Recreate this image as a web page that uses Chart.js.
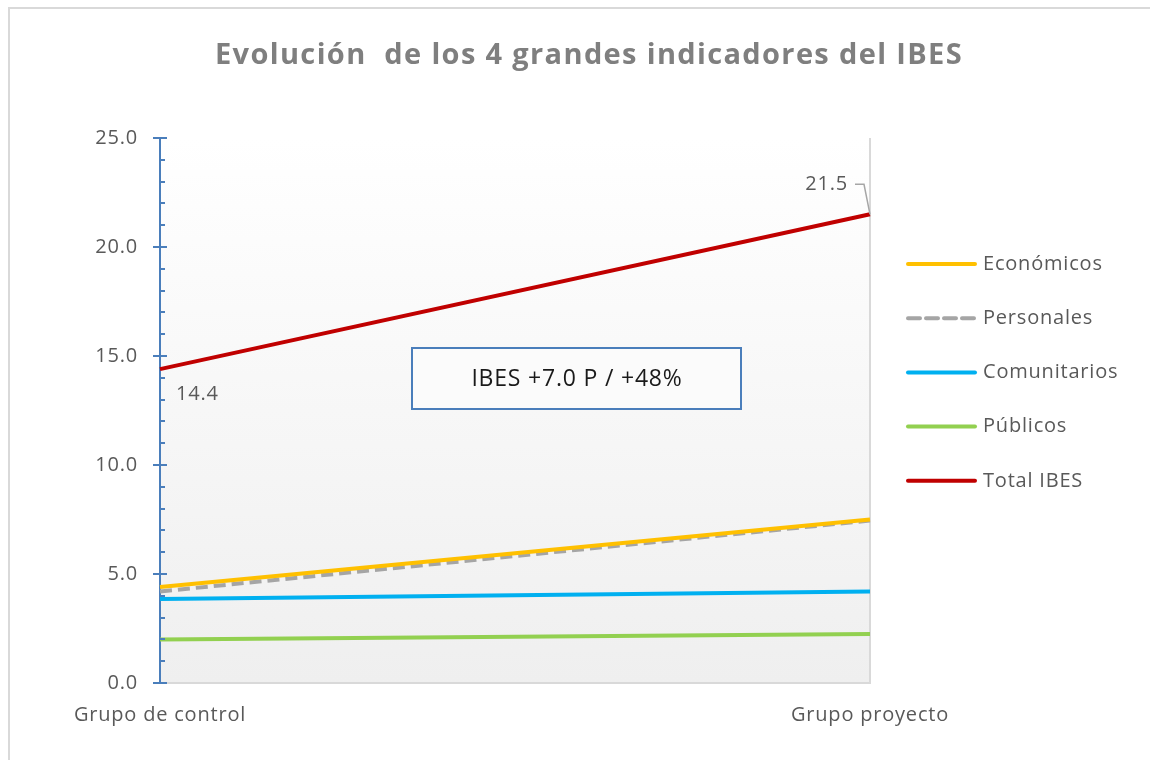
<!DOCTYPE html>
<html>
<head>
<meta charset="utf-8">
<script src="https://cdn.jsdelivr.net/npm/chart.js@4.4.1/dist/chart.umd.min.js"></script>
<style>
  html, body { margin: 0; padding: 0; background: #fff; }
  #wrap { width: 1150px; height: 760px; position: relative; }
</style>
</head>
<body>
<div id="wrap"><canvas id="myChart" width="1150" height="760"></canvas></div>
<script>
const categories = ["Grupo de control", "Grupo proyecto"];
const economicos = [4.4, 7.5];
const personales = [4.2, 7.45];
const comunitarios = [3.85, 4.2];
const publicos = [2.0, 2.25];
const totalIbes = [14.4, 21.5];
const yTicks = [0, 5, 10, 15, 20, 25];

const FONT = "'Open Sans', Lato, sans-serif";
const GREY_TXT = "#595959";
const SPACING = "0.8px";

const legendItems = [
  { label: "Económicos", color: "#ffc000", dash: [] },
  { label: "Personales", color: "#a5a5a5", dash: [12, 6] },
  { label: "Comunitarios", color: "#00b0f0", dash: [] },
  { label: "Públicos", color: "#92d050", dash: [] },
  { label: "Total IBES", color: "#c00000", dash: [] }
];

const decorPlugin = {
  id: "decor",
  beforeInit(chart) {
    chart.ctx.letterSpacing = SPACING;
  },
  beforeDraw(chart) {
    const { ctx, chartArea: a } = chart;
    ctx.letterSpacing = SPACING;
    ctx.save();
    // outer frame (only left/top visible)
    ctx.strokeStyle = "#d9d9d9";
    ctx.lineWidth = 2;
    ctx.beginPath();
    ctx.moveTo(9, 770);
    ctx.lineTo(9, 8);
    ctx.lineTo(1160, 8);
    ctx.stroke();
    // plot background gradient
    const g = ctx.createLinearGradient(0, a.top, 0, a.bottom);
    g.addColorStop(0, "#ffffff");
    g.addColorStop(1, "#efefef");
    ctx.fillStyle = g;
    ctx.fillRect(a.left, a.top, a.right - a.left, a.bottom - a.top);
    ctx.strokeStyle = "#d9d9d9";
    ctx.lineWidth = 2;
    ctx.beginPath();
    ctx.moveTo(a.left, a.bottom);
    ctx.lineTo(a.right, a.bottom);
    ctx.lineTo(a.right, a.top);
    ctx.stroke();
    // title
    ctx.fillStyle = "#7f7f7f";
    ctx.font = "bold 29px " + FONT;
    ctx.letterSpacing = "1.35px";
    ctx.textAlign = "center";
    ctx.textBaseline = "alphabetic";
    ctx.fillText("Evolución  de los 4 grandes indicadores del IBES", 589, 64);
    ctx.restore();
  },
  afterDatasetsDraw(chart) {
    const { ctx, chartArea: a, scales } = chart;
    const y = scales.y;
    ctx.save();
    // axis ticks
    ctx.strokeStyle = "#4a7ebb";
    ctx.lineWidth = 2;
    for (let v = 0; v <= 25; v++) {
      const py = Math.round(y.getPixelForValue(v));
      ctx.beginPath();
      if (v % 5 === 0) {
        ctx.moveTo(a.left - 7, py);
        ctx.lineTo(a.left + 7, py);
      } else {
        ctx.moveTo(a.left, py);
        ctx.lineTo(a.left + 5, py);
      }
      ctx.stroke();
    }
    // data labels for Total IBES
    const x0 = scales.x.getPixelForValue(0);
    const x1 = scales.x.getPixelForValue(1);
    const y0 = y.getPixelForValue(totalIbes[0]);
    const y1 = y.getPixelForValue(totalIbes[1]);
    ctx.font = "20px " + FONT;
    ctx.fillStyle = GREY_TXT;
    ctx.textBaseline = "middle";
    ctx.textAlign = "left";
    ctx.fillText(totalIbes[0].toFixed(1), x0 + 16, y0 + 25);
    ctx.textAlign = "right";
    ctx.fillText(totalIbes[1].toFixed(1), x1 - 22, y1 - 30);
    ctx.strokeStyle = "#a6a6a6";
    ctx.lineWidth = 1.5;
    ctx.beginPath();
    ctx.moveTo(x1 - 15, y1 - 30);
    ctx.lineTo(x1 - 6, y1 - 30);
    ctx.lineTo(x1, y1);
    ctx.stroke();
    // text box
    ctx.fillStyle = "#fbfbfb";
    ctx.fillRect(412, 348, 329, 61);
    ctx.strokeStyle = "#4a7ebb";
    ctx.lineWidth = 2;
    ctx.strokeRect(412, 348, 329, 61);
    ctx.fillStyle = "#1a1a1a";
    ctx.font = "23px " + FONT;
    ctx.textAlign = "center";
    ctx.fillText("IBES +7.0 P / +48%", 577, 379);
    // legend
    ctx.font = "20px " + FONT;
    ctx.textAlign = "left";
    legendItems.forEach((it, i) => {
      const ly = 264 + i * 54.2;
      ctx.strokeStyle = it.color;
      ctx.lineWidth = 4;
      ctx.lineCap = "round";
      ctx.setLineDash(it.dash);
      ctx.beginPath();
      ctx.moveTo(908, ly);
      ctx.lineTo(975, ly);
      ctx.stroke();
      ctx.setLineDash([]);
      ctx.fillStyle = GREY_TXT;
      ctx.fillText(it.label, 983, ly);
    });
    ctx.restore();
  }
};

function ds(label, data, color, dash) {
  return {
    label, data,
    borderColor: color,
    backgroundColor: color,
    borderWidth: 4,
    borderDash: dash || [],
    pointRadius: 0,
    tension: 0,
    fill: false
  };
}

new Chart(document.getElementById("myChart"), {
  type: "line",
  data: {
    labels: categories,
    datasets: [
      ds("Económicos", economicos, "#ffc000"),
      ds("Personales", personales, "#a5a5a5", [12, 6]),
      ds("Comunitarios", comunitarios, "#00b0f0"),
      ds("Públicos", publicos, "#92d050"),
      ds("Total IBES", totalIbes, "#c00000")
    ]
  },
  options: {
    responsive: false,
    animation: false,
    layout: { padding: { left: 0, top: 138, right: 280, bottom: 0 } },
    plugins: { legend: { display: false }, title: { display: false }, tooltip: { enabled: false } },
    scales: {
      x: {
        offset: false,
        grid: { display: false, drawTicks: false },
        border: { display: false },
        ticks: { color: GREY_TXT, font: { family: FONT, size: 20 }, padding: 20, maxRotation: 0 },
        afterFit(s) { s.height = 77; }
      },
      y: {
        min: 0, max: 25,
        afterBuildTicks(s) { s.ticks = yTicks.map(v => ({ value: v })); },
        grid: { display: false, drawTicks: false },
        border: { display: true, color: "#4a7ebb", width: 2 },
        ticks: {
          color: GREY_TXT, font: { family: FONT, size: 20 }, padding: 22,
          callback: v => Number(v).toFixed(1)
        },
        afterFit(s) { s.width = 160; }
      }
    }
  },
  plugins: [decorPlugin]
});
</script>
</body>
</html>
